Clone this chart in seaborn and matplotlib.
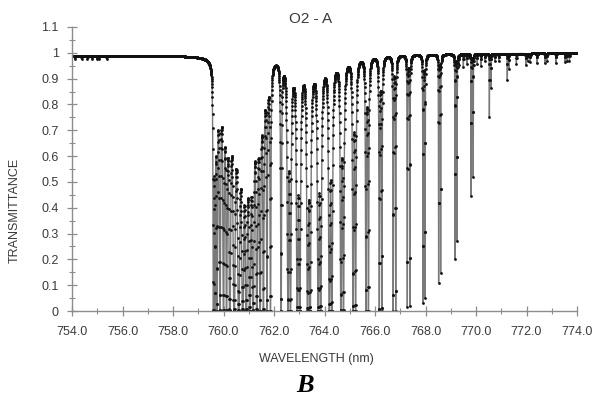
import numpy as np
import pandas as pd
import matplotlib
matplotlib.use("Agg")
import matplotlib.pyplot as plt
from matplotlib.ticker import MultipleLocator, FuncFormatter
import seaborn as sns

# ---------------- data ----------------
# wavelength sampling of the spectrum (nm)
WL_START, WL_END, WL_STEP = 754.0, 774.0, 0.005

# continuum transmittance at the two ends of the window
CONT_NM = [754.0, 774.0]
CONT_T = [0.988, 0.999]

# Lorentzian half width of every line (nm)
LINE_HWHM = 0.004

# R-branch lines (band head at ~759.6 nm) and their peak optical depths
R_LINES_NM = [759.60, 759.66, 759.74, 759.86, 760.00, 760.12, 760.25, 760.42,
              760.60, 760.76, 760.90, 761.04, 761.17, 761.32, 761.45, 761.58,
              761.72, 761.86]
R_PEAK_TAU = [15, 18, 25, 40, 40, 40, 75, 120,
              135, 120, 115, 100, 85, 70, 45, 35,
              22, 20]

# P-branch doublets: shorter-wavelength member
P_SHORT_NM = [762.55, 762.92, 763.33, 763.75, 764.19, 764.65, 765.13, 765.64,
              766.17, 766.72, 767.28, 767.90, 768.52, 769.17, 769.81, 770.53,
              771.24, 771.97, 772.74, 773.53]
P_SHORT_TAU = [45, 60, 64, 60, 52, 40, 28, 18,
               12, 7.0, 4.2, 3.5, 2.2, 1.6, 0.80, 0.28,
               0.11, 0.045, 0.04, 0.035]
# P-branch doublets: longer-wavelength member (first one is the lone P1 line)
P_LONG_NM = [762.28, 762.65, 763.02, 763.43, 763.85, 764.29, 764.75, 765.23,
             765.74, 766.27, 766.82, 767.38, 767.98, 768.60, 769.25, 769.89,
             770.60, 771.31, 772.04, 772.81, 773.60]
P_LONG_TAU = [22, 45, 60, 62, 58, 50, 38, 27,
              17, 11, 6.5, 4.0, 3.0, 1.9, 1.3, 0.65,
              0.14, 0.06, 0.03, 0.03, 0.03]

# weak extra lines
WEAK_NM = [754.12, 754.38, 754.61, 754.78, 754.98, 755.07, 755.37,
           769.33, 769.50, 769.65, 770.05, 770.20, 770.35, 770.75, 770.90,
           771.60, 772.15, 772.42, 773.17, 773.70]
WEAK_TAU = [0.012, 0.012, 0.012, 0.012, 0.012, 0.012, 0.012,
            0.04, 0.05, 0.04, 0.04, 0.05, 0.03, 0.03, 0.03,
            0.04, 0.035, 0.04, 0.04, 0.03]

X_TICKS = [754, 756, 758, 760, 762, 764, 766, 768, 770, 772, 774]
Y_TICKS = [0, 0.1, 0.2, 0.3, 0.4, 0.5, 0.6, 0.7, 0.8, 0.9, 1.0, 1.1]

# ---------------- spectrum ----------------
n = int(round((WL_END - WL_START) / WL_STEP)) + 1
wl = np.round(np.linspace(WL_START, WL_END, n), 3)
centers = np.array(R_LINES_NM + P_SHORT_NM + P_LONG_NM + WEAK_NM)
peaks = np.array(R_PEAK_TAU + P_SHORT_TAU + P_LONG_TAU + WEAK_TAU, dtype=float)
g2 = LINE_HWHM ** 2
tau = (peaks[None, :] * g2 / ((wl[:, None] - centers[None, :]) ** 2 + g2)).sum(axis=1)
cont = np.interp(wl, CONT_NM, CONT_T)
trans = cont * np.exp(-tau)
df = pd.DataFrame({"wavelength": wl, "transmittance": trans})

# ---------------- figure ----------------
sns.set_style("ticks")
plt.rcParams["font.family"] = ["Liberation Sans", "DejaVu Sans"]

W, H = 595, 399
fig = plt.figure(figsize=(W / 100, H / 100), dpi=100)
ax = fig.add_axes([72 / W, 1 - 311 / H, 505 / W, 284 / H])

sns.lineplot(data=df, x="wavelength", y="transmittance", ax=ax,
             estimator=None, sort=False, color="#7a7a7a", linewidth=1.0,
             marker="o", markersize=2.0, markeredgewidth=0,
             markerfacecolor="#111111")

ax.set_xlim(754, 774)
ax.set_ylim(0, 1.1)
ax.set_xticks(X_TICKS)
ax.set_yticks(Y_TICKS)
ax.xaxis.set_minor_locator(MultipleLocator(1))
ax.yaxis.set_minor_locator(MultipleLocator(0.05))
ax.xaxis.set_major_formatter(FuncFormatter(lambda v, p: f"{v:.1f}"))
ax.yaxis.set_major_formatter(FuncFormatter(lambda v, p: f"{v:g}"))

spine_c = "#8c8c8c"
for s in ["top", "right"]:
    ax.spines[s].set_visible(False)
for s in ["left", "bottom"]:
    ax.spines[s].set_color(spine_c)
    ax.spines[s].set_linewidth(1.0)
ax.tick_params(which="major", direction="inout", length=7, width=0.9,
               color=spine_c, labelsize=9, labelcolor="#3a3a3a")
ax.tick_params(which="minor", direction="inout", length=4, width=0.8,
               color=spine_c)
ax.tick_params(axis="x", which="major", pad=7)
ax.tick_params(axis="y", which="major", pad=6)

ax.set_xlabel("WAVELENGTH (nm)", fontsize=9, color="#3a3a3a")
ax.xaxis.set_label_coords((316.5 - 72) / 505, (311 - 353) / 284)
ax.set_ylabel("TRANSMITTANCE", fontsize=9, color="#3a3a3a")
ax.yaxis.set_label_coords((21 - 72) / 505, (311 - 210) / 284)
ax.set_title("O2 - A", fontsize=11, color="#3a3a3a",
             x=(310.5 - 72) / 505, y=(311 - 22.7) / 284, pad=0)

fig.text(305 / W, 1 - 386 / H, "B", ha="center", va="center",
         fontsize=19, fontweight="bold", fontstyle="italic",
         family=["Liberation Serif", "DejaVu Serif"], color="black")

fig.savefig("out.png", dpi=100, facecolor="white")
